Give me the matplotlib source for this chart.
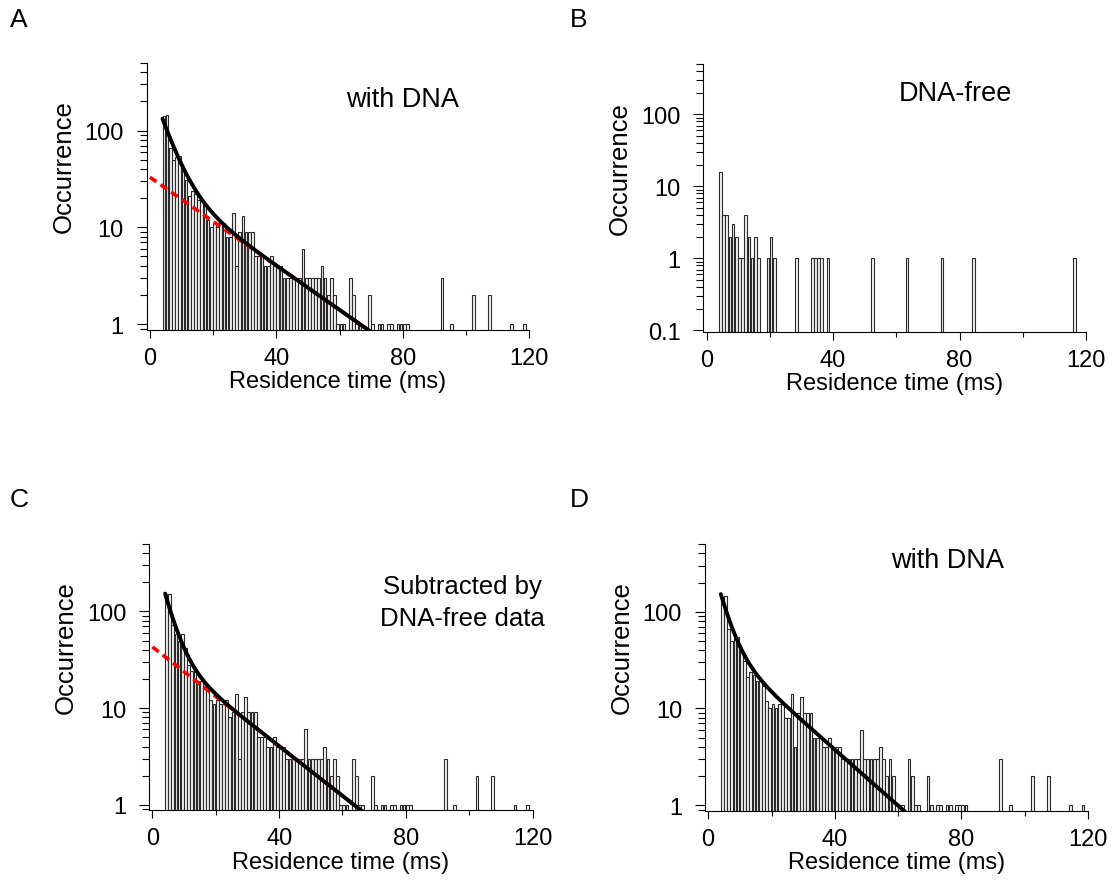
import matplotlib
matplotlib.use("Agg")
import matplotlib.pyplot as plt
import numpy as np
from matplotlib.ticker import FixedLocator, LogLocator, NullFormatter

plt.rcParams['font.family'] = ['Liberation Sans', 'DejaVu Sans']

# residence-time histograms, 1 ms bins; dense part starts at 4 ms
bin_start = 4
with_dna_dense = [140, 145, 66, 50, 54, 55, 39, 31, 21, 24,
                  22, 19, 19, 17, 12, 10, 11, 10, 11, 11,
                  8, 8, 14, 4, 9, 13, 9, 9, 9, 5,
                  5, 5, 4, 4, 5, 4, 4, 4, 3, 3,
                  3, 3, 3, 3, 6, 3, 3, 3, 3, 3,
                  4, 3, 2, 3, 2, 1]
with_dna_tail_t = [60, 61, 63, 64, 65, 66, 69, 70, 72, 73, 75, 76, 78, 79, 80, 81,
                   92, 95, 102, 107, 114, 118]
with_dna_tail_n = [1, 1, 3, 2, 1, 1, 2, 1, 1, 1, 1, 1, 1, 1, 1, 1,
                   3, 1, 2, 2, 1, 1]

subtracted_dense = [150, 150, 73, 58, 50, 58, 42, 28, 24, 24,
                    19, 19, 18, 17, 12, 11, 12, 11, 11, 12,
                    8, 9, 14, 3, 9, 13, 9, 9, 9, 5,
                    5, 5, 4, 4, 5, 4, 4, 4, 3, 3,
                    3, 3, 3, 3, 6, 3, 3, 3, 3, 3,
                    4, 3, 2, 3, 2, 1]

dna_free_t = [4, 5, 6, 7, 8, 9, 10, 11, 12, 13, 14, 15, 16, 19, 20, 21, 28,
              33, 34, 35, 36, 38, 52, 63, 74, 84, 116]
dna_free_n = [16, 4, 4, 2, 3, 2, 1, 1, 4, 2, 1, 2, 1, 1, 2, 1, 1,
              1, 1, 1, 1, 1, 1, 1, 1, 1, 1]

# double-exponential fits: (A1, tau1, A2, tau2) in counts / ms
fit_a = (275, 4.2, 33, 19.0)
fit_c = (419, 3.18, 43, 16.9)
fit_d = (395, 3.14, 54, 15.0)


def dense_to_xy(dense, tail_t, tail_n):
    t = list(np.arange(bin_start, bin_start + len(dense))) + tail_t
    return t, list(dense) + tail_n


def style_axes(ax, ylim, yticks, ylabels):
    ax.set_yscale('log')
    ax.set_ylim(*ylim)
    ax.set_xlim(-1, 120)
    ax.yaxis.set_major_locator(FixedLocator(yticks))
    ax.set_yticklabels(ylabels)
    ax.yaxis.set_minor_locator(LogLocator(base=10, subs=np.arange(2, 10)))
    ax.yaxis.set_minor_formatter(NullFormatter())
    ax.set_xticks([0, 40, 80, 120])
    ax.set_xticks([20, 60, 100], minor=True)
    for s in ['top', 'right']:
        ax.spines[s].set_visible(False)
    for s in ['left', 'bottom']:
        ax.spines[s].set_linewidth(0.8)
    ax.tick_params(which='both', direction='out', width=0.8, labelsize=17)
    ax.tick_params(axis='y', which='major', length=7.5, pad=9)
    ax.tick_params(axis='y', which='minor', length=5)
    ax.tick_params(axis='x', which='major', length=6, pad=6)
    ax.tick_params(axis='x', which='minor', length=3.8)
    ax.set_xlabel('Residence time (ms)', fontsize=17, labelpad=1)
    ax.set_ylabel('Occurrence', fontsize=18.5)
    ax.yaxis.set_label_coords(-0.186, 0.615)


def draw_hist(ax, t, n):
    ax.bar(t, n, width=0.85, align='edge', facecolor='#f2f2f2', edgecolor='#2a2a2a',
           linewidth=0.8, zorder=2)


def draw_fit(ax, p, with_slow=True):
    a1, t1, a2, t2 = p
    tt = np.linspace(4, 120, 400)
    if with_slow:
        ts = np.linspace(0, 120, 400)
        ax.plot(ts, a2 * np.exp(-ts / t2), color='red', lw=2.6,
                dashes=(2.2, 1.4), zorder=3)
    ax.plot(tt, a1 * np.exp(-tt / t1) + a2 * np.exp(-tt / t2), color='black',
            lw=2.8, zorder=4, solid_capstyle='round')


fig = plt.figure(figsize=(11.15, 8.95), dpi=100)
ax_a = fig.add_axes([0.1316, 0.6302, 0.3431, 0.2983])
ax_b = fig.add_axes([0.6308, 0.6279, 0.3432, 0.2994])
ax_c = fig.add_axes([0.1339, 0.0933, 0.3437, 0.2978])
ax_d = fig.add_axes([0.6323, 0.0927, 0.3436, 0.2983])

t_dna, n_dna = dense_to_xy(with_dna_dense, with_dna_tail_t, with_dna_tail_n)
t_sub, n_sub = dense_to_xy(subtracted_dense, with_dna_tail_t, with_dna_tail_n)

# A
draw_hist(ax_a, t_dna, n_dna)
draw_fit(ax_a, fit_a)
style_axes(ax_a, (0.87, 500), [1, 10, 100], ['1', '10', '100'])
ax_a.text(0.67, 0.865, 'with DNA', transform=ax_a.transAxes, fontsize=19.5,
          ha='center', va='center')

# B
draw_hist(ax_b, dna_free_t, dna_free_n)
style_axes(ax_b, (0.095, 500), [0.1, 1, 10, 100], ['0.1', '1', '10', '100'])
ax_b.text(0.658, 0.892, 'DNA-free', transform=ax_b.transAxes, fontsize=19.5,
          ha='center', va='center')

# C
draw_hist(ax_c, t_sub, n_sub)
draw_fit(ax_c, fit_c)
style_axes(ax_c, (0.87, 500), [1, 10, 100], ['1', '10', '100'])
ax_c.text(0.816, 0.782, 'Subtracted by\nDNA-free data', transform=ax_c.transAxes,
          fontsize=18.5, ha='center', va='center', linespacing=1.45)

# D
draw_hist(ax_d, t_dna, n_dna)
draw_fit(ax_d, fit_d, with_slow=False)
style_axes(ax_d, (0.87, 500), [1, 10, 100], ['1', '10', '100'])
ax_d.text(0.632, 0.94, 'with DNA', transform=ax_d.transAxes, fontsize=19.5,
          ha='center', va='center')

for lab, x, y in [('A', 10, 20), ('B', 570, 20), ('C', 10, 500), ('D', 570, 500)]:
    fig.text(x / 1115, 1 - y / 895, lab, fontsize=19, ha='left', va='center')

fig.savefig('out.png', dpi=100)
